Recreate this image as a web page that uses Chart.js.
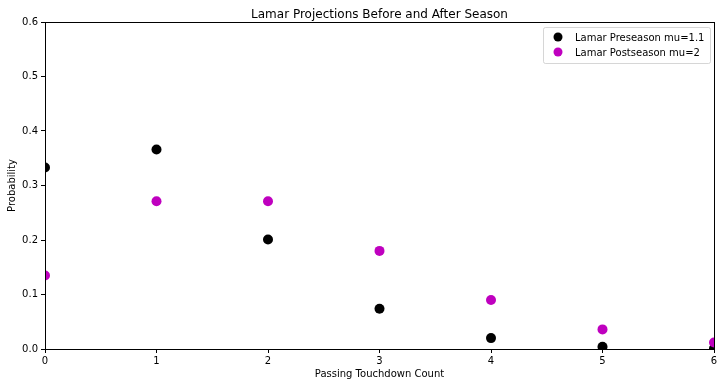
<!DOCTYPE html>
<html>
<head>
<meta charset="utf-8">
<script src="https://cdn.jsdelivr.net/npm/chart.js@4/dist/chart.umd.min.js"></script>
<style>
  html, body { margin: 0; padding: 0; background: #fff; }
  #wrap { width: 724px; height: 387px; }
</style>
</head>
<body>
<div id="wrap"><canvas id="lamarChart" width="724" height="387"></canvas></div>
<script>
const touchdowns = [0, 1, 2, 3, 4, 5, 6];
const preseason = [0.333, 0.366, 0.201, 0.074, 0.020, 0.004, 0.001];
const postseason = [0.135, 0.271, 0.271, 0.180, 0.090, 0.036, 0.012];
const yTicks = [0.0, 0.1, 0.2, 0.3, 0.4, 0.5, 0.6];
const xTicks = [0, 1, 2, 3, 4, 5, 6];

const seriesNames = ['Lamar Preseason mu=1.1', 'Lamar Postseason mu=2'];
const seriesColors = ['#000000', '#bf00bf'];
const FONT = 'DejaVu Sans';

function toPoints(values) {
    return touchdowns.map((x, i) => ({x: x, y: values[i]}));
}

// frame, title and matplotlib-like legend
const framePlugin = {
    id: 'frame',
    afterDraw(chart) {
        const {ctx, chartArea: a} = chart;
        ctx.save();
        ctx.strokeStyle = '#000';
        ctx.lineWidth = 1;
        ctx.strokeRect(Math.round(a.left) + 0.5, Math.round(a.top) + 0.5,
            Math.round(a.right - a.left), Math.round(a.bottom - a.top));

        ctx.fillStyle = '#000';
        ctx.font = '12px "' + FONT + '"';
        ctx.textAlign = 'center';
        ctx.textBaseline = 'alphabetic';
        ctx.fillText('Lamar Projections Before and After Season', (a.left + a.right) / 2, a.top - 4);

        // legend box
        const boxW = 167, boxH = 36;
        const bx = a.right - 4 - boxW, by = a.top + 5;
        ctx.globalAlpha = 0.8;
        ctx.fillStyle = '#fff';
        ctx.strokeStyle = '#cccccc';
        ctx.beginPath();
        ctx.roundRect(bx + 0.5, by + 0.5, boxW, boxH, 2);
        ctx.fill();
        ctx.stroke();
        ctx.globalAlpha = 1;
        ctx.font = '10px "' + FONT + '"';
        ctx.textAlign = 'left';
        ctx.textBaseline = 'middle';
        seriesNames.forEach((name, i) => {
            const cy = by + 10 + i * 15;
            ctx.fillStyle = seriesColors[i];
            ctx.beginPath();
            ctx.arc(bx + 15, cy, 4.5, 0, Math.PI * 2);
            ctx.fill();
            ctx.fillStyle = '#000';
            ctx.fillText(name, bx + 32, cy + 1);
        });
        ctx.restore();
    }
};

new Chart(document.getElementById('lamarChart').getContext('2d'), {
    type: 'scatter',
    data: {
        datasets: [{
            label: seriesNames[0],
            data: toPoints(preseason),
            backgroundColor: seriesColors[0],
            borderColor: seriesColors[0],
            pointRadius: 5,
            pointHoverRadius: 5,
            borderWidth: 0,
            clip: 0,
            order: 2
        }, {
            label: seriesNames[1],
            data: toPoints(postseason),
            backgroundColor: seriesColors[1],
            borderColor: seriesColors[1],
            pointRadius: 5,
            pointHoverRadius: 5,
            borderWidth: 0,
            clip: 0,
            order: 1
        }]
    },
    options: {
        responsive: false,
        animation: false,
        events: [],
        layout: {
            padding: {top: 22, right: 10, left: 0, bottom: 0}
        },
        scales: {
            x: {
                type: 'linear',
                min: 0,
                max: 6,
                afterBuildTicks: s => { s.ticks = xTicks.map(v => ({value: v})); },
                afterFit: s => { s.height = 38; },
                ticks: {
                    color: '#000',
                    padding: 2,
                    font: {family: FONT, size: 10},
                    callback: v => String(v)
                },
                grid: {drawOnChartArea: false, drawTicks: true, tickLength: 4, color: '#000'},
                border: {display: false},
                title: {
                    display: true,
                    text: 'Passing Touchdown Count',
                    color: '#000',
                    font: {family: FONT, size: 10},
                    padding: {top: 0, bottom: 7}
                }
            },
            y: {
                min: 0,
                max: 0.6,
                afterBuildTicks: s => { s.ticks = yTicks.map(v => ({value: v})); },
                afterFit: s => { s.width = 45; },
                ticks: {
                    color: '#000',
                    padding: 3,
                    font: {family: FONT, size: 10},
                    callback: v => Number(v).toFixed(1)
                },
                grid: {drawOnChartArea: false, drawTicks: true, tickLength: 4, color: '#000'},
                border: {display: false},
                title: {
                    display: true,
                    text: 'Probability',
                    color: '#000',
                    font: {family: FONT, size: 10},
                    padding: {top: 6, bottom: 0}
                }
            }
        },
        plugins: {
            legend: {display: false},
            title: {display: false},
            tooltip: {enabled: false}
        }
    },
    plugins: [framePlugin]
});
</script>
</body>
</html>
